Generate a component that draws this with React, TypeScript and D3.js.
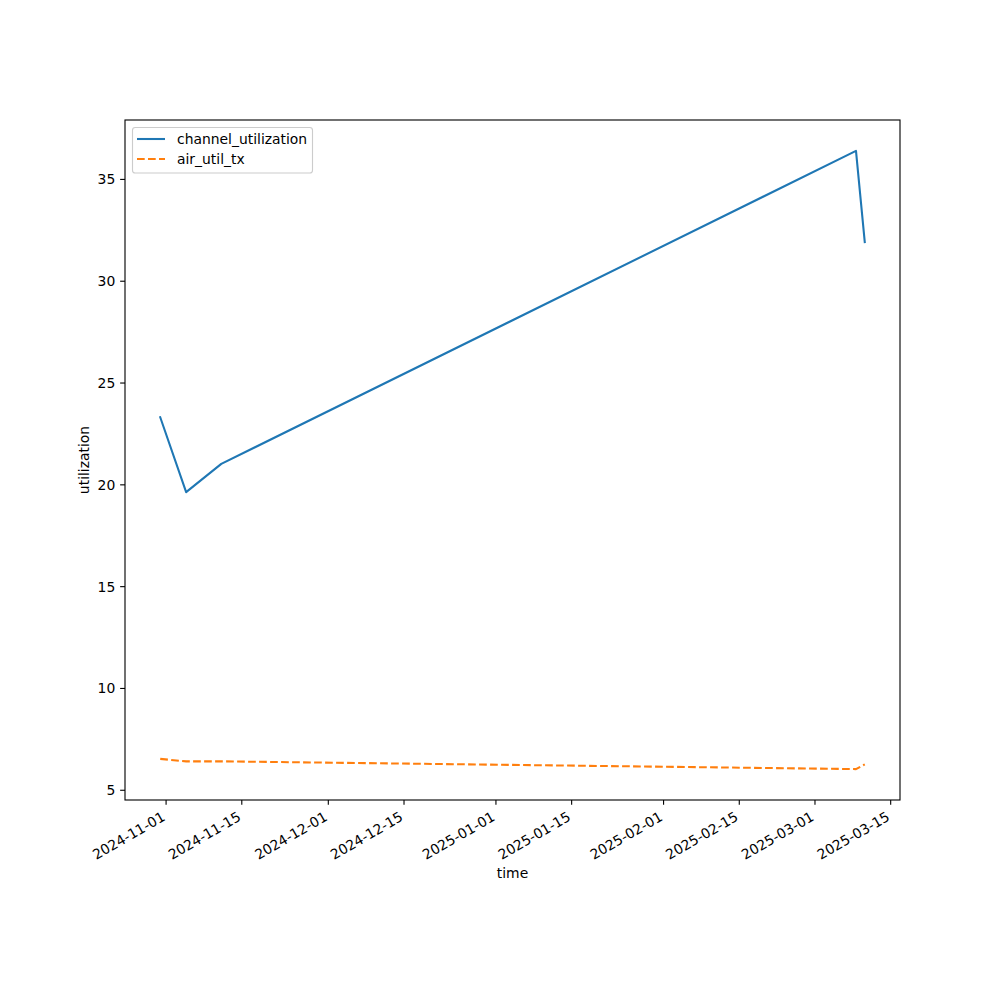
import * as d3 from "d3";

/** sampled readings */
const times = [
  "2024-10-30T22:00:00",
  "2024-11-04T17:00:00",
  "2024-11-11T05:00:00",
  "2025-03-08T14:00:00",
  "2025-03-10T05:00:00",
];
const channelUtilization = [23.32, 19.64, 21.03, 36.4, 31.92];
const airUtilTx = [6.54, 6.42, 6.42, 6.04, 6.27];

const xTickLabels = [
  "2024-11-01",
  "2024-11-15",
  "2024-12-01",
  "2024-12-15",
  "2025-01-01",
  "2025-01-15",
  "2025-02-01",
  "2025-02-15",
  "2025-03-01",
  "2025-03-15",
];
const yTicks = [5, 10, 15, 20, 25, 30, 35];

const seriesNames = ["channel_utilization", "air_util_tx"];
const colors = ["#1f77b4", "#ff7f0e"];

/** svg dimensions */
const width = 1000;
const height = 1000;
const left = 125;
const right = 900;
const top = 120;
const bottom = 800;
const font = "DejaVu Sans, sans-serif";
const fontSize = 13.9;

const parse = d3.timeParse("%Y-%m-%dT%H:%M:%S");
const parseDay = d3.timeParse("%Y-%m-%d");

const App = () => {
  const dates = times.map((t) => parse(t) as Date);
  const [tMin, tMax] = d3.extent(dates) as [Date, Date];
  const tPad = (+tMax - +tMin) * 0.05;
  const xScale = d3
    .scaleTime()
    .domain([new Date(+tMin - tPad), new Date(+tMax + tPad)])
    .range([left, right]);

  const allY = [...channelUtilization, ...airUtilTx];
  const [yMin = 0, yMax = 0] = d3.extent(allY);
  const yPad = (yMax - yMin) * 0.05;
  const yScale = d3
    .scaleLinear()
    .domain([yMin - yPad, yMax + yPad])
    .range([bottom, top]);

  const line = d3
    .line<number>()
    .x((_, i) => xScale(dates[i]))
    .y((d) => yScale(d));

  const series = [channelUtilization, airUtilTx];

  return (
    <svg
      width={width}
      height={height}
      viewBox={[0, 0, width, height].join(" ")}
      style={{ position: "absolute", left: 0, top: 0, background: "#fff" }}
      fontFamily={font}
      fontSize={fontSize}
    >
      <rect x={0} y={0} width={width} height={height} fill="#fff" />
      {/* data lines */}
      <g clipPath="url(#plot)">
        {series.map((s, i) => (
          <path
            key={seriesNames[i]}
            d={line(s) ?? ""}
            fill="none"
            stroke={colors[i]}
            strokeWidth={2.08}
            strokeDasharray={i === 1 ? "7.7 3.3" : undefined}
            strokeLinejoin="round"
            strokeLinecap={i === 1 ? "butt" : "square"}
          />
        ))}
      </g>
      <defs>
        <clipPath id="plot">
          <rect x={left} y={top} width={right - left} height={bottom - top} />
        </clipPath>
      </defs>
      {/* frame */}
      <rect
        x={left}
        y={top}
        width={right - left}
        height={bottom - top}
        fill="none"
        stroke="#000"
        strokeWidth={1.11}
      />
      {/* x ticks */}
      {xTickLabels.map((label) => {
        const x = xScale(parseDay(label) as Date);
        return (
          <g key={label}>
            <line x1={x} x2={x} y1={bottom} y2={bottom + 4.86} stroke="#000" strokeWidth={1.11} />
            <text
              transform={`translate(${x - 5}, ${bottom + 11}) rotate(-30)`}
              textAnchor="end"
              dy="0.72em"
            >
              {label}
            </text>
          </g>
        );
      })}
      {/* y ticks */}
      {yTicks.map((v) => {
        const y = yScale(v);
        return (
          <g key={v}>
            <line x1={left - 4.86} x2={left} y1={y} y2={y} stroke="#000" strokeWidth={1.11} />
            <text x={left - 9.7} y={y} textAnchor="end" dominantBaseline="central">
              {v}
            </text>
          </g>
        );
      })}
      {/* axis labels */}
      <text x={(left + right) / 2} y={878} textAnchor="middle">
        time
      </text>
      <text
        transform={`translate(89, ${(top + bottom) / 2}) rotate(-90)`}
        textAnchor="middle"
      >
        utilization
      </text>
      {/* legend */}
      <rect
        x={132.5}
        y={127.5}
        width={180}
        height={45.5}
        rx={2.8}
        fill="#fff"
        fillOpacity={0.8}
        stroke="#cccccc"
        strokeWidth={1.11}
      />
      {seriesNames.map((name, i) => {
        const y = 139 + i * 20;
        return (
          <g key={name}>
            <line
              x1={137}
              x2={165}
              y1={y}
              y2={y}
              stroke={colors[i]}
              strokeWidth={2.08}
              strokeDasharray={i === 1 ? "7.7 3.3" : undefined}
            />
            <text x={177} y={y} dominantBaseline="central">
              {name}
            </text>
          </g>
        );
      })}
    </svg>
  );
};

export default App;
